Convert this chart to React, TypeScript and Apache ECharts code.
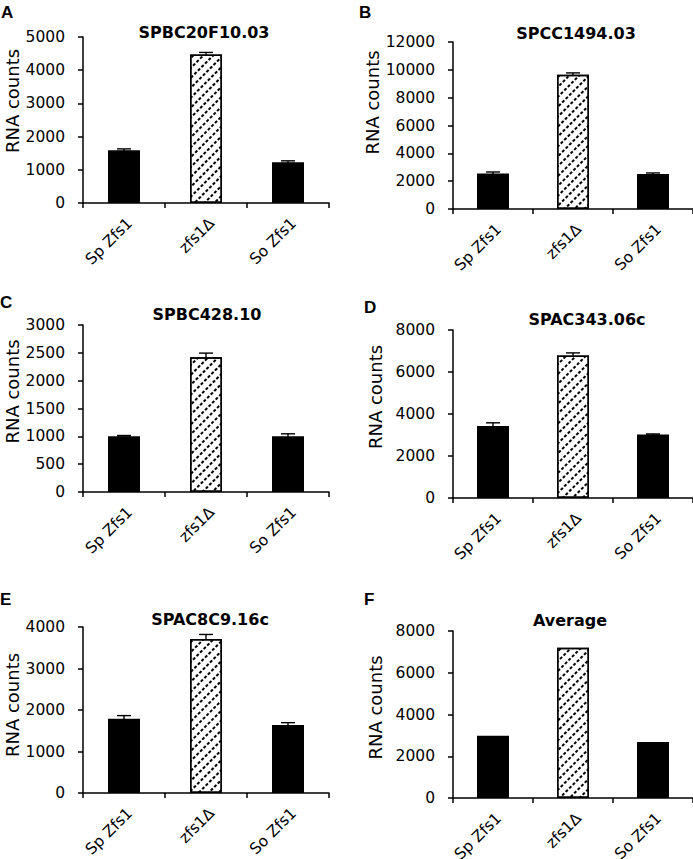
import React, { useEffect, useRef } from "react";
import * as echarts from "echarts";

const categories = ["Sp Zfs1", "zfs1Δ", "So Zfs1"];
const panelTitles = ["SPBC20F10.03", "SPCC1494.03", "SPBC428.10", "SPAC343.06c", "SPAC8C9.16c", "Average"];
const panelLetters = ["A", "B", "C", "D", "E", "F"];

const valuesA = [1590, 4470, 1230];
const errorsA = [40, 65, 40];
const valuesB = [2550, 9650, 2520];
const errorsB = [110, 130, 70];
const valuesC = [1000, 2420, 1000];
const errorsC = [15, 75, 45];
const valuesD = [3430, 6780, 3020];
const errorsD = [150, 130, 30];
const valuesE = [1790, 3710, 1640];
const errorsE = [75, 110, 55];
const valuesF = [2980, 7200, 2680];
const errorsF: number[] = [];

const yMaxes = [5000, 12000, 3000, 8000, 4000, 8000];
const yIntervals = [1000, 2000, 500, 2000, 1000, 2000];

const allValues = [valuesA, valuesB, valuesC, valuesD, valuesE, valuesF];
const allErrors = [errorsA, errorsB, errorsC, errorsD, errorsE, errorsF];

// layout (pixels)
const grids = [
  { left: 83, top: 37, width: 246, height: 166 },
  { left: 453, top: 42, width: 240, height: 167 },
  { left: 83, top: 325, width: 246, height: 167 },
  { left: 453, top: 330, width: 240, height: 168 },
  { left: 83, top: 627, width: 246, height: 166 },
  { left: 453, top: 631, width: 240, height: 167 },
];
const titlePos = [
  [204, 32], [576, 33], [207, 314], [587, 319], [210, 619], [570, 620],
];
const letterPos = [
  [1, 4], [359, 4], [0, 294], [364, 299], [0, 591], [364, 591],
];
const nameShift = [19, 23, 17, 17, 5, 7];
const nameGaps = [62, 69, 62, 69, 62, 69];

const FONT = "DejaVu Sans";

export default function App() {
  const ref = useRef<HTMLDivElement>(null);
  useEffect(() => {
    if (!ref.current) return;
    const chart = echarts.init(ref.current, undefined, { renderer: "svg" });

    const hatch = {
      symbol: "rect",
      symbolSize: 1,
      color: "#000",
      backgroundColor: "#fff",
      dashArrayX: [3, 1.2],
      dashArrayY: [1.5, 4.2],
      rotation: -Math.PI / 4,
    };

    const title: any[] = [];
    const grid: any[] = [];
    const xAxis: any[] = [];
    const yAxis: any[] = [];
    const series: any[] = [];

    for (let i = 0; i < 6; i++) {
      title.push({
        text: panelTitles[i],
        left: titlePos[i][0],
        top: titlePos[i][1],
        textAlign: "center",
        textVerticalAlign: "middle",
        padding: 0,
        textStyle: { fontFamily: FONT, fontWeight: "bold", fontSize: 16, color: "#000" },
      });
      title.push({
        text: panelLetters[i],
        left: letterPos[i][0],
        top: letterPos[i][1],
        padding: 0,
        textStyle: { fontFamily: "Liberation Sans", fontWeight: "bold", fontSize: 17, color: "#000" },
      });
      grid.push({ ...grids[i], outerBoundsMode: "none", containLabel: false });
      xAxis.push({
        type: "category",
        gridIndex: i,
        data: categories,
        boundaryGap: true,
        axisLine: { show: true, lineStyle: { color: "#000", width: 1.5 } },
        axisTick: { show: true, length: 5, alignWithLabel: false, interval: 0, lineStyle: { color: "#000", width: 1.5 } },
        axisLabel: {
          interval: 0,
          rotate: 45,
          verticalAlign: "top",
          margin: 12,
          fontFamily: FONT,
          fontSize: 15.5,
          color: "#000",
          hideOverlap: false,
        },
        splitLine: { show: false },
      });
      yAxis.push({
        type: "value",
        gridIndex: i,
        min: 0,
        max: yMaxes[i],
        interval: yIntervals[i],
        name: "RNA counts",
        nameLocation: "middle",
        nameGap: nameGaps[i],
        nameTextStyle: {
          fontFamily: FONT,
          fontSize: 18,
          color: "#000",
          padding: [0, 0, 0, nameShift[i] * 2],
        },
        axisLine: { show: true, lineStyle: { color: "#000", width: 1.5 } },
        axisTick: { show: true, length: 5, lineStyle: { color: "#000", width: 1.5 } },
        axisLabel: {
          margin: 18,
          fontFamily: FONT,
          fontSize: 15.5,
          color: "#000",
          formatter: (v: number) => String(v),
        },
        splitLine: { show: false },
      });
      const vals = allValues[i];
      series.push({
        type: "bar",
        xAxisIndex: i,
        yAxisIndex: i,
        barWidth: 32,
        data: vals.map((v, j) =>
          j === 1
            ? {
                value: v,
                itemStyle: { color: "#fff", borderColor: "#000", borderWidth: 1.5, decal: hatch },
              }
            : { value: v, itemStyle: { color: "#000", borderColor: "#000", borderWidth: 0 } }
        ),
        silent: true,
      });
      const errs = allErrors[i];
      if (errs.length) {
        series.push({
          type: "custom",
          xAxisIndex: i,
          yAxisIndex: i,
          silent: true,
          encode: { x: 0, y: [1, 2] },
          data: vals.map((v, j) => [j, v - errs[j], v + errs[j]]),
          renderItem: (params: any, api: any) => {
            const x = api.value(0);
            const lo = api.coord([x, api.value(1)]);
            const hi = api.coord([x, api.value(2)]);
            const half = 7;
            const st = { stroke: "#000", lineWidth: 1.4 };
            return {
              type: "group",
              children: [
                { type: "line", shape: { x1: lo[0], y1: lo[1], x2: hi[0], y2: hi[1] }, style: st },
                { type: "line", shape: { x1: hi[0] - half, y1: hi[1], x2: hi[0] + half, y2: hi[1] }, style: st },
                { type: "line", shape: { x1: lo[0] - half, y1: lo[1], x2: lo[0] + half, y2: lo[1] }, style: st },
              ],
            };
          },
        });
      }
    }

    chart.setOption({
      animation: false,
      backgroundColor: "#fff",
      title,
      grid,
      xAxis,
      yAxis,
      series,
    });
    return () => chart.dispose();
  }, []);
  return (
    <div
      ref={ref}
      style={{ position: "absolute", left: 0, top: 0, width: 693, height: 859, background: "#fff" }}
    />
  );
}
